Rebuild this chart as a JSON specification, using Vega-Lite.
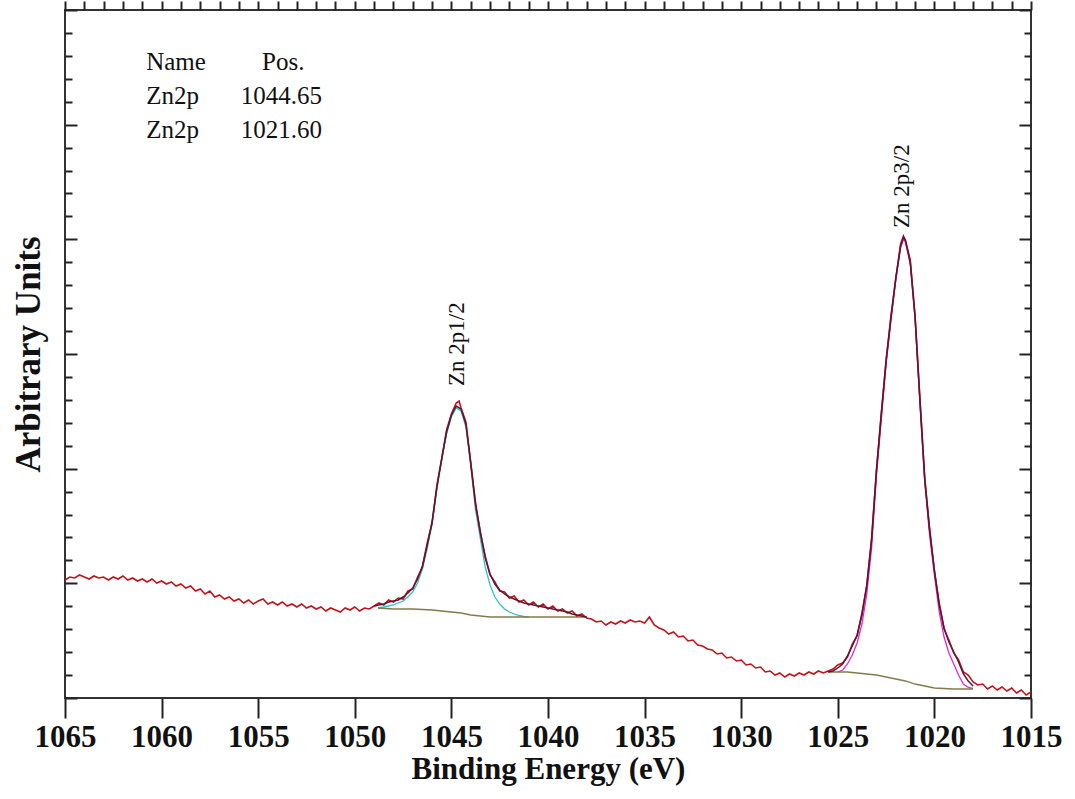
{
"$schema":"https://vega.github.io/schema/vega-lite/v6.json",
"width":966,"height":688,
"autosize":{"type":"none"},
"padding":{"left":65,"top":10,"right":44,"bottom":101},
"background":"white",
"config":{"view":{"stroke":"#333333","strokeWidth":2},"axis":{"domain":false,"grid":false,"tickColor":"#222222","tickWidth":2}},
"data":{"values":[
{"E":1065,"I":118,"s":"d"},{"E":1064.75,"I":121,"s":"d"},{"E":1064.5,"I":120,"s":"d"},{"E":1064.25,"I":123,"s":"d"},{"E":1064,"I":121,"s":"d"},{"E":1063.75,"I":119,"s":"d"},{"E":1063.5,"I":122,"s":"d"},{"E":1063.25,"I":120,"s":"d"},{"E":1063,"I":121,"s":"d"},{"E":1062.75,"I":118,"s":"d"},{"E":1062.5,"I":121,"s":"d"},{"E":1062.25,"I":119,"s":"d"},{"E":1062,"I":122,"s":"d"},{"E":1061.75,"I":118,"s":"d"},{"E":1061.5,"I":120,"s":"d"},{"E":1061.25,"I":117,"s":"d"},{"E":1061,"I":119,"s":"d"},{"E":1060.75,"I":116,"s":"d"},{"E":1060.5,"I":119,"s":"d"},{"E":1060.25,"I":115,"s":"d"},{"E":1060,"I":117,"s":"d"},{"E":1059.75,"I":114,"s":"d"},{"E":1059.5,"I":116,"s":"d"},{"E":1059.25,"I":112,"s":"d"},{"E":1059,"I":114,"s":"d"},{"E":1058.75,"I":110,"s":"d"},{"E":1058.5,"I":112,"s":"d"},{"E":1058.25,"I":107,"s":"d"},{"E":1058,"I":109,"s":"d"},{"E":1057.75,"I":104,"s":"d"},{"E":1057.5,"I":107,"s":"d"},{"E":1057.25,"I":101,"s":"d"},{"E":1057,"I":103,"s":"d"},{"E":1056.75,"I":99,"s":"d"},{"E":1056.5,"I":101,"s":"d"},{"E":1056.25,"I":97,"s":"d"},{"E":1056,"I":99,"s":"d"},{"E":1055.75,"I":95,"s":"d"},{"E":1055.5,"I":98,"s":"d"},{"E":1055.25,"I":94,"s":"d"},{"E":1055,"I":97,"s":"d"},{"E":1054.75,"I":99,"s":"d"},{"E":1054.5,"I":94,"s":"d"},{"E":1054.25,"I":96,"s":"d"},{"E":1054,"I":93,"s":"d"},{"E":1053.75,"I":96,"s":"d"},{"E":1053.5,"I":92,"s":"d"},{"E":1053.25,"I":94,"s":"d"},{"E":1053,"I":91,"s":"d"},{"E":1052.75,"I":94,"s":"d"},{"E":1052.5,"I":90,"s":"d"},{"E":1052.25,"I":92,"s":"d"},{"E":1052,"I":89,"s":"d"},{"E":1051.75,"I":91,"s":"d"},{"E":1051.5,"I":87,"s":"d"},{"E":1051.25,"I":90,"s":"d"},{"E":1051,"I":88,"s":"d"},{"E":1050.75,"I":86,"s":"d"},{"E":1050.5,"I":90,"s":"d"},{"E":1050.25,"I":88,"s":"d"},{"E":1050,"I":91,"s":"d"},{"E":1049.75,"I":87,"s":"d"},{"E":1049.5,"I":90,"s":"d"},{"E":1049.25,"I":89,"s":"d"},{"E":1049,"I":92,"s":"d"},
{"E":1048.75,"I":95,"s":"d"},{"E":1048.5,"I":93,"s":"d"},{"E":1048.25,"I":98,"s":"d"},{"E":1048,"I":96,"s":"d"},{"E":1047.75,"I":100,"s":"d"},{"E":1047.5,"I":99,"s":"d"},{"E":1047.25,"I":107,"s":"d"},{"E":1047,"I":109,"s":"d"},{"E":1046.75,"I":121,"s":"d"},{"E":1046.5,"I":131,"s":"d"},{"E":1046.25,"I":155,"s":"d"},{"E":1046,"I":175,"s":"d"},{"E":1045.75,"I":213,"s":"d"},{"E":1045.5,"I":239,"s":"d"},{"E":1045.25,"I":268,"s":"d"},{"E":1045,"I":284,"s":"d"},{"E":1044.75,"I":295,"s":"d"},{"E":1044.6,"I":297,"s":"d"},{"E":1044.5,"I":290,"s":"d"},{"E":1044.25,"I":276,"s":"d"},{"E":1044,"I":235,"s":"d"},{"E":1043.75,"I":195,"s":"d"},{"E":1043.5,"I":165,"s":"d"},{"E":1043.25,"I":142,"s":"d"},{"E":1043,"I":123,"s":"d"},{"E":1042.75,"I":116,"s":"d"},{"E":1042.5,"I":107,"s":"d"},{"E":1042.25,"I":106,"s":"d"},{"E":1042,"I":100,"s":"d"},{"E":1041.75,"I":102,"s":"d"},{"E":1041.5,"I":96,"s":"d"},{"E":1041.25,"I":98,"s":"d"},{"E":1041,"I":93,"s":"d"},{"E":1040.75,"I":96,"s":"d"},{"E":1040.5,"I":91,"s":"d"},{"E":1040.25,"I":94,"s":"d"},{"E":1040,"I":89,"s":"d"},{"E":1039.75,"I":92,"s":"d"},{"E":1039.5,"I":87,"s":"d"},{"E":1039.25,"I":89,"s":"d"},{"E":1039,"I":85,"s":"d"},{"E":1038.75,"I":87,"s":"d"},{"E":1038.5,"I":82,"s":"d"},{"E":1038.25,"I":84,"s":"d"},{"E":1038,"I":80,"s":"d"},
{"E":1037.75,"I":79,"s":"d"},{"E":1037.5,"I":76,"s":"d"},{"E":1037.25,"I":77,"s":"d"},{"E":1037,"I":73,"s":"d"},{"E":1036.75,"I":76,"s":"d"},{"E":1036.5,"I":74,"s":"d"},{"E":1036.25,"I":77,"s":"d"},{"E":1036,"I":75,"s":"d"},{"E":1035.75,"I":78,"s":"d"},{"E":1035.5,"I":76,"s":"d"},{"E":1035.25,"I":77,"s":"d"},{"E":1035,"I":75,"s":"d"},{"E":1034.75,"I":81,"s":"d"},{"E":1034.5,"I":73,"s":"d"},{"E":1034.25,"I":70,"s":"d"},{"E":1034,"I":68,"s":"d"},{"E":1033.75,"I":64,"s":"d"},{"E":1033.5,"I":66,"s":"d"},{"E":1033.25,"I":61,"s":"d"},{"E":1033,"I":62,"s":"d"},{"E":1032.75,"I":57,"s":"d"},{"E":1032.5,"I":58,"s":"d"},{"E":1032.25,"I":53,"s":"d"},{"E":1032,"I":52,"s":"d"},{"E":1031.75,"I":49,"s":"d"},{"E":1031.5,"I":48,"s":"d"},{"E":1031.25,"I":44,"s":"d"},{"E":1031,"I":45,"s":"d"},{"E":1030.75,"I":40,"s":"d"},{"E":1030.5,"I":41,"s":"d"},{"E":1030.25,"I":37,"s":"d"},{"E":1030,"I":38,"s":"d"},{"E":1029.75,"I":33,"s":"d"},{"E":1029.5,"I":34,"s":"d"},{"E":1029.25,"I":30,"s":"d"},{"E":1029,"I":31,"s":"d"},{"E":1028.75,"I":26,"s":"d"},{"E":1028.5,"I":27,"s":"d"},{"E":1028.25,"I":23,"s":"d"},{"E":1028,"I":25,"s":"d"},{"E":1027.75,"I":21,"s":"d"},{"E":1027.5,"I":24,"s":"d"},{"E":1027.25,"I":22,"s":"d"},{"E":1027,"I":25,"s":"d"},{"E":1026.75,"I":23,"s":"d"},{"E":1026.5,"I":26,"s":"d"},{"E":1026.25,"I":24,"s":"d"},{"E":1026,"I":27,"s":"d"},{"E":1025.75,"I":25,"s":"d"},{"E":1025.5,"I":27,"s":"d"},
{"E":1025.25,"I":29,"s":"d"},{"E":1025,"I":33,"s":"d"},{"E":1024.75,"I":35,"s":"d"},{"E":1024.5,"I":41,"s":"d"},{"E":1024.25,"I":54,"s":"d"},{"E":1024,"I":62,"s":"d"},{"E":1023.75,"I":85,"s":"d"},{"E":1023.5,"I":112,"s":"d"},{"E":1023.25,"I":160,"s":"d"},{"E":1023,"I":227,"s":"d"},{"E":1022.75,"I":285,"s":"d"},{"E":1022.5,"I":337,"s":"d"},{"E":1022.25,"I":382,"s":"d"},{"E":1022,"I":419,"s":"d"},{"E":1021.75,"I":454,"s":"d"},{"E":1021.6,"I":462,"s":"d"},{"E":1021.5,"I":457,"s":"d"},{"E":1021.25,"I":438,"s":"d"},{"E":1021,"I":381,"s":"d"},{"E":1020.75,"I":300,"s":"d"},{"E":1020.5,"I":219,"s":"d"},{"E":1020.25,"I":170,"s":"d"},{"E":1020,"I":127,"s":"d"},{"E":1019.75,"I":95,"s":"d"},{"E":1019.5,"I":69,"s":"d"},{"E":1019.25,"I":58,"s":"d"},{"E":1019,"I":45,"s":"d"},{"E":1018.75,"I":38,"s":"d"},{"E":1018.5,"I":26,"s":"d"},{"E":1018.25,"I":23,"s":"d"},{"E":1018,"I":16,"s":"d"},{"E":1017.75,"I":13,"s":"d"},{"E":1017.5,"I":14,"s":"d"},{"E":1017.25,"I":9,"s":"d"},{"E":1017,"I":12,"s":"d"},{"E":1016.75,"I":8,"s":"d"},{"E":1016.5,"I":11,"s":"d"},{"E":1016.25,"I":7,"s":"d"},{"E":1016,"I":10,"s":"d"},{"E":1015.75,"I":5,"s":"d"},{"E":1015.5,"I":8,"s":"d"},{"E":1015.25,"I":3,"s":"d"},{"E":1015,"I":6,"s":"d"},
{"E":1049,"I":92,"s":"env1"},{"E":1048.75,"I":93,"s":"env1"},{"E":1048.5,"I":94,"s":"env1"},{"E":1048.25,"I":96,"s":"env1"},{"E":1048,"I":97,"s":"env1"},{"E":1047.75,"I":98,"s":"env1"},{"E":1047.5,"I":101,"s":"env1"},{"E":1047.25,"I":105,"s":"env1"},{"E":1047,"I":110,"s":"env1"},{"E":1046.75,"I":119,"s":"env1"},{"E":1046.5,"I":132,"s":"env1"},{"E":1046.25,"I":153,"s":"env1"},{"E":1046,"I":176,"s":"env1"},{"E":1045.75,"I":211,"s":"env1"},{"E":1045.5,"I":240,"s":"env1"},{"E":1045.25,"I":266,"s":"env1"},{"E":1045,"I":283,"s":"env1"},{"E":1044.75,"I":292,"s":"env1"},{"E":1044.5,"I":289,"s":"env1"},{"E":1044.25,"I":274,"s":"env1"},{"E":1044,"I":236,"s":"env1"},{"E":1043.75,"I":193,"s":"env1"},{"E":1043.5,"I":166,"s":"env1"},{"E":1043.25,"I":140,"s":"env1"},{"E":1043,"I":124,"s":"env1"},{"E":1042.75,"I":114,"s":"env1"},{"E":1042.5,"I":108,"s":"env1"},{"E":1042.25,"I":104,"s":"env1"},{"E":1042,"I":101,"s":"env1"},{"E":1041.75,"I":99,"s":"env1"},{"E":1041.5,"I":97,"s":"env1"},{"E":1041.25,"I":95,"s":"env1"},{"E":1041,"I":94,"s":"env1"},{"E":1040.75,"I":93,"s":"env1"},{"E":1040.5,"I":92,"s":"env1"},{"E":1040.25,"I":91,"s":"env1"},{"E":1040,"I":90,"s":"env1"},{"E":1039.75,"I":89,"s":"env1"},{"E":1039.5,"I":88,"s":"env1"},{"E":1039.25,"I":87,"s":"env1"},{"E":1039,"I":86,"s":"env1"},{"E":1038.75,"I":84,"s":"env1"},{"E":1038.5,"I":83,"s":"env1"},{"E":1038.25,"I":82,"s":"env1"},{"E":1038,"I":81,"s":"env1"},
{"E":1025.5,"I":26,"s":"env2"},{"E":1025.25,"I":27,"s":"env2"},{"E":1025,"I":30,"s":"env2"},{"E":1024.75,"I":34,"s":"env2"},{"E":1024.5,"I":42,"s":"env2"},{"E":1024.25,"I":52,"s":"env2"},{"E":1024,"I":63,"s":"env2"},{"E":1023.75,"I":83,"s":"env2"},{"E":1023.5,"I":113,"s":"env2"},{"E":1023.25,"I":158,"s":"env2"},{"E":1023,"I":228,"s":"env2"},{"E":1022.75,"I":283,"s":"env2"},{"E":1022.5,"I":338,"s":"env2"},{"E":1022.25,"I":380,"s":"env2"},{"E":1022,"I":420,"s":"env2"},{"E":1021.75,"I":452,"s":"env2"},{"E":1021.6,"I":461,"s":"env2"},{"E":1021.5,"I":458,"s":"env2"},{"E":1021.25,"I":436,"s":"env2"},{"E":1021,"I":382,"s":"env2"},{"E":1020.75,"I":298,"s":"env2"},{"E":1020.5,"I":220,"s":"env2"},{"E":1020.25,"I":168,"s":"env2"},{"E":1020,"I":128,"s":"env2"},{"E":1019.75,"I":93,"s":"env2"},{"E":1019.5,"I":70,"s":"env2"},{"E":1019.25,"I":56,"s":"env2"},{"E":1019,"I":46,"s":"env2"},{"E":1018.75,"I":36,"s":"env2"},{"E":1018.5,"I":24,"s":"env2"},{"E":1018.25,"I":17,"s":"env2"},{"E":1018,"I":12,"s":"env2"},
{"E":1048.8,"I":90,"s":"c1"},{"E":1048.5,"I":91,"s":"c1"},{"E":1048.25,"I":92,"s":"c1"},{"E":1048,"I":93,"s":"c1"},{"E":1047.75,"I":95,"s":"c1"},{"E":1047.5,"I":97,"s":"c1"},{"E":1047.25,"I":101,"s":"c1"},{"E":1047,"I":106,"s":"c1"},{"E":1046.75,"I":115,"s":"c1"},{"E":1046.5,"I":129,"s":"c1"},{"E":1046.25,"I":150,"s":"c1"},{"E":1046,"I":174,"s":"c1"},{"E":1045.75,"I":209,"s":"c1"},{"E":1045.5,"I":238,"s":"c1"},{"E":1045.25,"I":264,"s":"c1"},{"E":1045,"I":281,"s":"c1"},{"E":1044.75,"I":290,"s":"c1"},{"E":1044.5,"I":287,"s":"c1"},{"E":1044.25,"I":271,"s":"c1"},{"E":1044,"I":232,"s":"c1"},{"E":1043.75,"I":188,"s":"c1"},{"E":1043.5,"I":159,"s":"c1"},{"E":1043.25,"I":131,"s":"c1"},{"E":1043,"I":113,"s":"c1"},{"E":1042.75,"I":101,"s":"c1"},{"E":1042.5,"I":94,"s":"c1"},{"E":1042.25,"I":89,"s":"c1"},{"E":1042,"I":86,"s":"c1"},{"E":1041.75,"I":84,"s":"c1"},{"E":1041.5,"I":82.5,"s":"c1"},{"E":1041.25,"I":81.5,"s":"c1"},{"E":1041,"I":81,"s":"c1"},
{"E":1025,"I":26,"s":"c2"},{"E":1024.75,"I":28,"s":"c2"},{"E":1024.5,"I":34,"s":"c2"},{"E":1024.25,"I":43,"s":"c2"},{"E":1024,"I":55,"s":"c2"},{"E":1023.75,"I":74,"s":"c2"},{"E":1023.5,"I":104,"s":"c2"},{"E":1023.25,"I":150,"s":"c2"},{"E":1023,"I":222,"s":"c2"},{"E":1022.75,"I":278,"s":"c2"},{"E":1022.5,"I":334,"s":"c2"},{"E":1022.25,"I":377,"s":"c2"},{"E":1022,"I":418,"s":"c2"},{"E":1021.75,"I":450,"s":"c2"},{"E":1021.6,"I":459,"s":"c2"},{"E":1021.5,"I":456,"s":"c2"},{"E":1021.25,"I":434,"s":"c2"},{"E":1021,"I":379,"s":"c2"},{"E":1020.75,"I":295,"s":"c2"},{"E":1020.5,"I":216,"s":"c2"},{"E":1020.25,"I":163,"s":"c2"},{"E":1020,"I":123,"s":"c2"},{"E":1019.75,"I":86,"s":"c2"},{"E":1019.5,"I":61,"s":"c2"},{"E":1019.25,"I":45,"s":"c2"},{"E":1019,"I":34,"s":"c2"},{"E":1018.75,"I":23,"s":"c2"},{"E":1018.5,"I":14,"s":"c2"},{"E":1018.25,"I":10.5,"s":"c2"},{"E":1018,"I":9.5,"s":"c2"},
{"E":1048.8,"I":90,"s":"bg1"},{"E":1048,"I":89,"s":"bg1"},{"E":1047,"I":89,"s":"bg1"},{"E":1046,"I":88,"s":"bg1"},{"E":1045.5,"I":87,"s":"bg1"},{"E":1045,"I":86,"s":"bg1"},{"E":1044.5,"I":85,"s":"bg1"},{"E":1044,"I":83,"s":"bg1"},{"E":1043.5,"I":82,"s":"bg1"},{"E":1043,"I":81,"s":"bg1"},{"E":1038,"I":81,"s":"bg1"},
{"E":1025.5,"I":26,"s":"bg2"},{"E":1025,"I":26,"s":"bg2"},{"E":1024.5,"I":26,"s":"bg2"},{"E":1024,"I":25,"s":"bg2"},{"E":1023.5,"I":24,"s":"bg2"},{"E":1023,"I":23,"s":"bg2"},{"E":1022.5,"I":21,"s":"bg2"},{"E":1022,"I":19,"s":"bg2"},{"E":1021.5,"I":17,"s":"bg2"},{"E":1021,"I":14,"s":"bg2"},{"E":1020.5,"I":12,"s":"bg2"},{"E":1020,"I":10,"s":"bg2"},{"E":1019.5,"I":9.5,"s":"bg2"},{"E":1019,"I":9,"s":"bg2"},{"E":1018,"I":9,"s":"bg2"}
]},
"resolve":{"axis":{"x":"independent","y":"independent"}},
"layer":[
{"transform":[{"filter":"indexof(['c1','c2','bg1','bg2'], datum.s) >= 0"}],
 "mark":{"type":"line","strokeWidth":1.3},
 "encoding":{
  "x":{"field":"E","type":"quantitative","scale":{"domain":[1015,1065],"reverse":true,"nice":false,"zero":false},
   "axis":{"values":[1015,1020,1025,1030,1035,1040,1045,1050,1055,1060,1065],"format":"d","tickSize":20,"labelFont":"Liberation Serif","labelFontSize":31,"labelFontWeight":"bold","labelColor":"#111111","labelPadding":4,"labelFlush":false,"labelOverlap":false,"title":"Binding Energy (eV)","titleFont":"Liberation Serif","titleFontSize":31,"titleFontWeight":"bold","titleColor":"#111111","titlePadding":2}},
  "y":{"field":"I","type":"quantitative","scale":{"domain":[0,688],"nice":false,"zero":false},
   "axis":{"orient":"left","values":[0,114.667,229.333,344,458.667,573.333,688],"tickSize":-12,"labels":false,"title":"Arbitrary Units","titleFont":"Liberation Serif","titleFontSize":35,"titleFontWeight":"bold","titleColor":"#111111","titlePadding":18}},
  "color":{"field":"s","type":"nominal","legend":null,"scale":{"domain":["d","env1","env2","c1","c2","bg1","bg2"],"range":["#c0141c","#5e1630","#5e1630","#2fc3cf","#dd2ad8","#857a4c","#857a4c"]}}
 }},
{"transform":[{"filter":"datum.s == 'd'"}],
 "mark":{"type":"line","strokeWidth":1.6,"color":"#c0141c"},
 "encoding":{
  "x":{"field":"E","type":"quantitative","scale":{"domain":[1015,1065],"reverse":true,"nice":false,"zero":false},
   "axis":{"values":[1015,1016,1017,1018,1019,1020,1021,1022,1023,1024,1025,1026,1027,1028,1029,1030,1031,1032,1033,1034,1035,1036,1037,1038,1039,1040,1041,1042,1043,1044,1045,1046,1047,1048,1049,1050,1051,1052,1053,1054,1055,1056,1057,1058,1059,1060,1061,1062,1063,1064,1065],"tickSize":9,"labels":false,"title":null}},
  "y":{"field":"I","type":"quantitative","scale":{"domain":[0,688],"nice":false,"zero":false},
   "axis":{"orient":"left","values":[22.933,45.867,68.8,91.733,137.6,160.533,183.467,206.4,252.267,275.2,298.133,321.067,366.933,389.867,412.8,435.733,481.6,504.533,527.467,550.4,596.267,619.2,642.133,665.067],"tickSize":-7,"labels":false,"title":null}}
 }},
{"transform":[{"filter":"datum.s == 'env1' || datum.s == 'env2'"}],
 "mark":{"type":"line","strokeWidth":1.5,"color":"#5e1630"},
 "encoding":{
  "detail":{"field":"s"},
  "x":{"field":"E","type":"quantitative","scale":{"domain":[1015,1065],"reverse":true,"nice":false,"zero":false},"axis":null},
  "y":{"field":"I","type":"quantitative","scale":{"domain":[0,688],"nice":false,"zero":false},
   "axis":{"orient":"right","values":[0,114.667,229.333,344,458.667,573.333,688],"tickSize":-12,"labels":false,"title":null}}
 }},
{"data":{"values":[{"E":1044.72,"I":312,"t":"Zn 2p1/2"},{"E":1021.67,"I":470,"t":"Zn 2p3/2"}]},
 "mark":{"type":"text","angle":270,"align":"left","baseline":"middle","font":"Liberation Serif","fontSize":23,"color":"#111111"},
 "encoding":{
  "text":{"field":"t"},
  "x":{"field":"E","type":"quantitative","scale":{"domain":[1015,1065],"reverse":true,"nice":false,"zero":false},"axis":null},
  "y":{"field":"I","type":"quantitative","scale":{"domain":[0,688],"nice":false,"zero":false},
   "axis":{"orient":"right","values":[22.933,45.867,68.8,91.733,137.6,160.533,183.467,206.4,252.267,275.2,298.133,321.067,366.933,389.867,412.8,435.733,481.6,504.533,527.467,550.4,596.267,619.2,642.133,665.067],"tickSize":-7,"labels":false,"title":null}}
 }},
{"data":{"values":[{"E":1060.8,"I":628,"t":"Name"},{"E":1054.8,"I":628,"t":"Pos."},{"E":1060.8,"I":594,"t":"Zn2p"},{"E":1055.9,"I":594,"t":"1044.65"},{"E":1060.8,"I":560,"t":"Zn2p"},{"E":1055.9,"I":560,"t":"1021.60"}]},
 "mark":{"type":"text","align":"left","baseline":"alphabetic","font":"Liberation Serif","fontSize":25,"color":"#111111"},
 "encoding":{
  "text":{"field":"t"},
  "x":{"field":"E","type":"quantitative","scale":{"domain":[1015,1065],"reverse":true,"nice":false,"zero":false},"axis":null},
  "y":{"field":"I","type":"quantitative","scale":{"domain":[0,688],"nice":false,"zero":false},"axis":null}
 }}
]
}
